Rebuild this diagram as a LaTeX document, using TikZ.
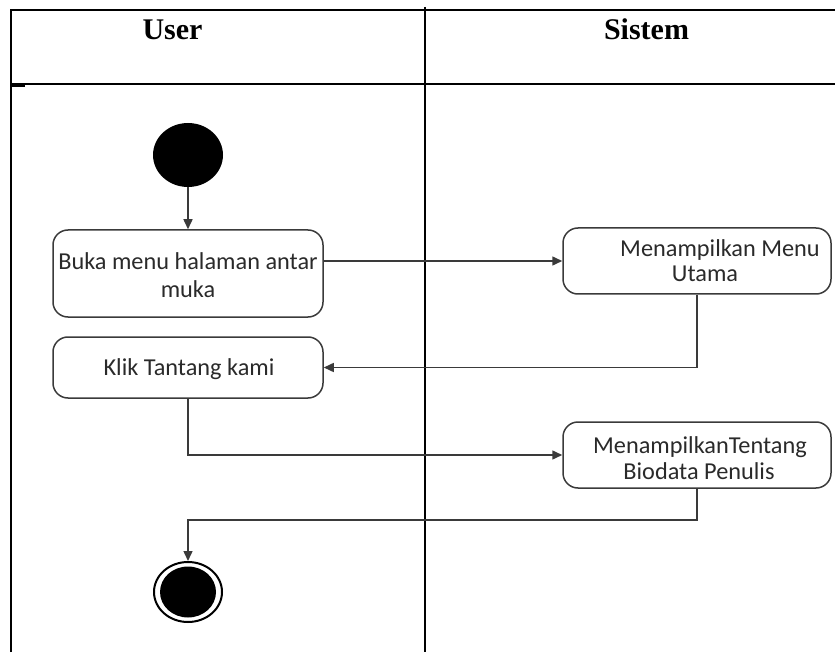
\documentclass[tikz,border=0pt]{standalone}
\usepackage{fontspec}
\setmainfont{Liberation Serif}
\newfontfamily\carl{Carlito}
\usetikzlibrary{arrows.meta,shapes.geometric}
\definecolor{lin}{HTML}{3A3A3A}
\definecolor{txt}{HTML}{2A2A2A}
\tikzset{
  frame/.style={line width=2.3pt, black},
  actbox/.style={draw=lin, line width=1.5pt, rounded corners=15pt, inner sep=0pt},
  head/.style={anchor=base, inner sep=0pt, font=\fontsize{30pt}{34pt}\selectfont\bfseries},
  ltext/.style={anchor=base, inner sep=0pt, text=txt, font=\carl\fontsize{24.3pt}{28pt}\selectfont},
  flow/.style={draw=lin, line width=1.5pt, -{Triangle[length=10pt,width=9pt]}},
  flowline/.style={draw=lin, line width=1.5pt}
}
\begin{document}
\begin{tikzpicture}[x=1pt,y=-1pt]
\useasboundingbox (0,0) rectangle (835,668);
% table frame
\coordinate (tl) at (11,10);
\coordinate (tr) at (835,10);
\coordinate (bl) at (11,652);
\coordinate (dt) at (425,7);
\coordinate (db) at (425,652);
\coordinate (hl) at (11,84);
\coordinate (hr) at (835,84);
\draw[frame] (bl) -- (tl |- tr) -- (tr);
\draw[frame] (dt) -- (db);
\draw[frame] (hl) -- (hr);
\coordinate (st1) at (10,85.5);
\coordinate (st2) at (25,85.5);
\draw[line width=3pt] (st1) -- (st2);
% headers
\node[head] (huser) at (172.5,40) {User};
\node[head] (hsys) at (646.5,40) {Sistem};
% start
\node[ellipse, fill=black, minimum width=70pt, minimum height=64pt, inner sep=0pt] (start) at (188,155) {};
% boxes
\node[actbox, minimum width=270pt, minimum height=87pt] (b1) at (188,273.5) {};
\node[actbox, minimum width=270pt, minimum height=61pt] (b2) at (188,367.5) {};
\node[actbox, minimum width=268pt, minimum height=66pt] (b3) at (697,261) {};
\node[actbox, minimum width=268pt, minimum height=66pt] (b4) at (697,455) {};
% texts
\node[ltext] (t1a) at (188,270) {Buka menu halaman antar};
\node[ltext] (t1b) at (188,298) {muka};
\node[ltext] (t2) at (189,375) {Klik Tantang kami};
\node[ltext] (t3a) at (720,257) {Menampilkan Menu};
\node[ltext] (t3b) at (705,282) {Utama};
\node[ltext] (t4a) at (700,453) {MenampilkanTentang};
\node[ltext] (t4b) at (699,479) {Biodata Penulis};
% end
\node[ellipse, draw=black, line width=2pt, minimum width=68pt, minimum height=60pt, inner sep=0pt] (end) at (188,592) {};
\node[ellipse, fill=black, minimum width=56pt, minimum height=51pt, inner sep=0pt] (endin) at (188,592) {};
% connectors
\draw[flow] (start.south) -- (b1.north);
\draw[flow] (b1.east |- b3.west) -- (b3.west);
\draw[flow] (b3.south) |- (b2.east);
\draw[flow] (b2.south) |- (b4.west);
\coordinate (turn) at (188,520);
\draw[flow] (b4.south) |- (turn) -- (end.north);
\end{tikzpicture}
\end{document}
